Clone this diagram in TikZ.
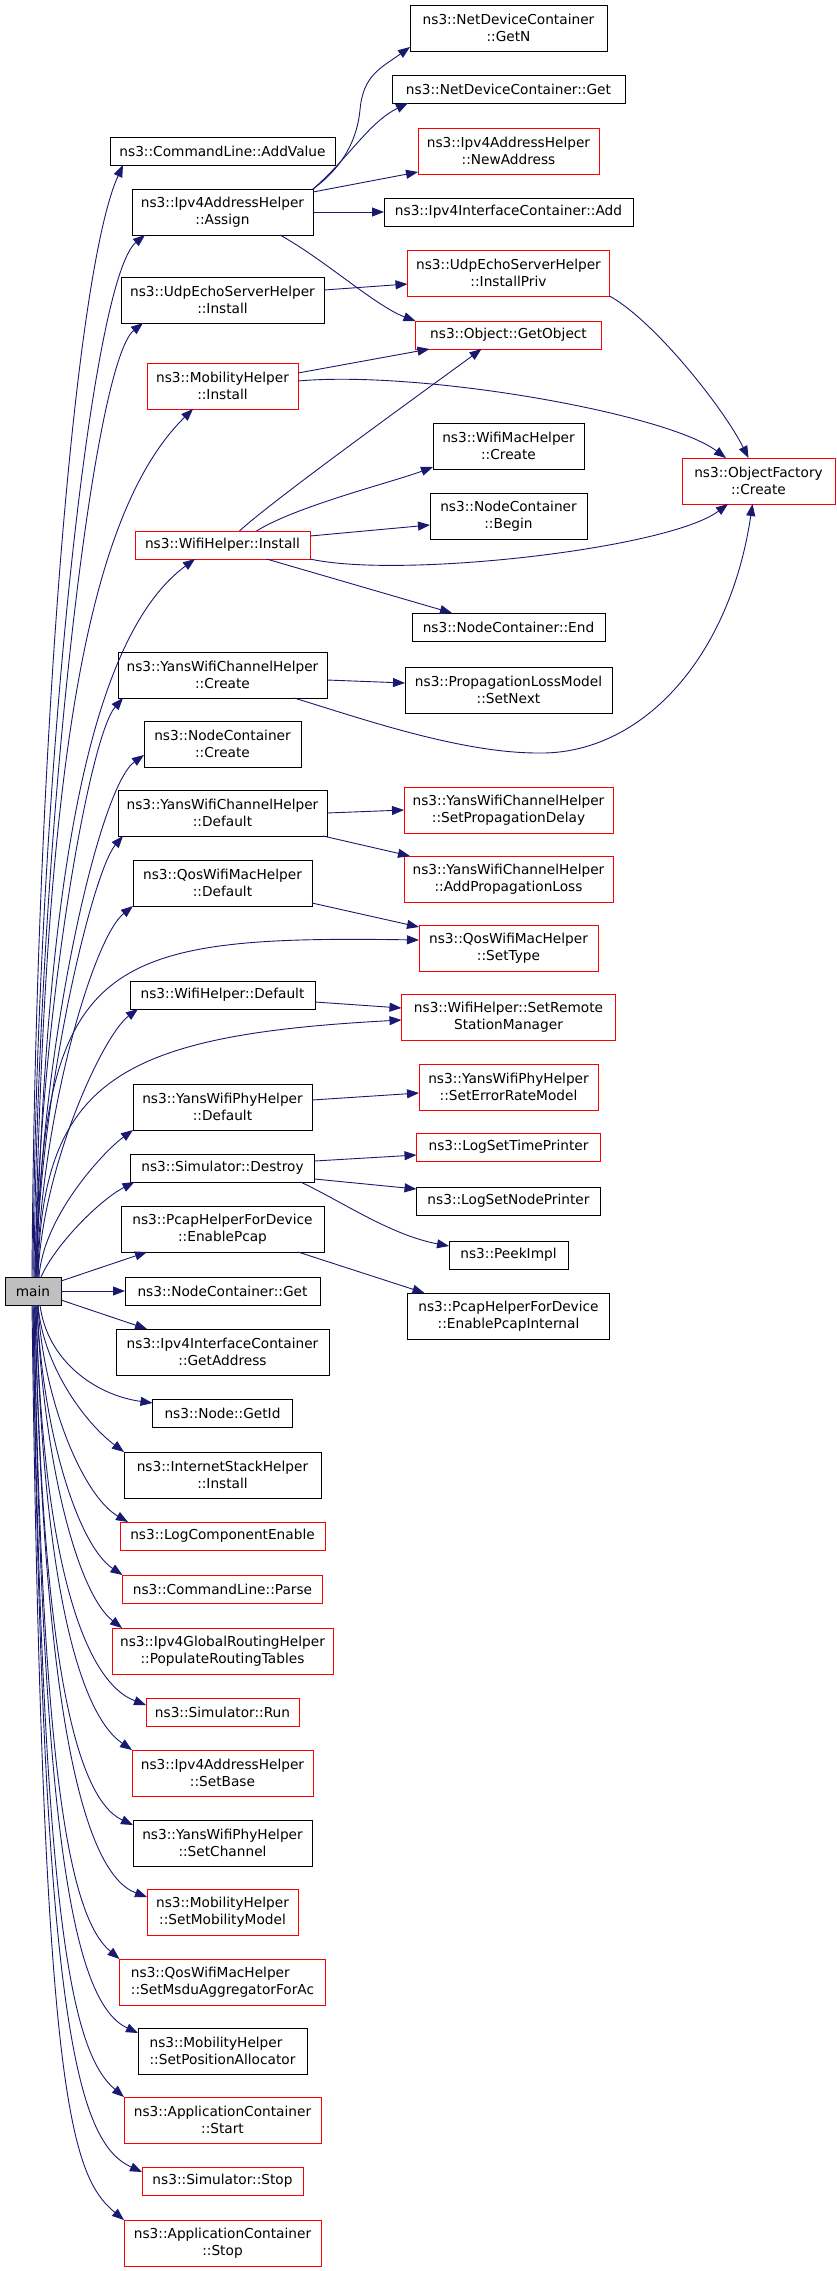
\documentclass[tikz,border=0pt]{standalone}
\usepackage{fontspec}
\setmainfont{DejaVu Sans}
\usepackage{tikz}
\usetikzlibrary{positioning}
\usetikzlibrary{arrows.meta}
\definecolor{edgeblue}{HTML}{191970}
\definecolor{mainfill}{HTML}{BFBFBF}
\newcommand{\fnfont}{\fontsize{13.7pt}{17pt}\selectfont}
\tikzset{%
  callarrow/.style = {-{Triangle[length=12pt,width=9pt]},draw=edgeblue,line width=0.9pt},
  fn/.style = {rectangle,draw,solid,line width=1pt,outer sep=0pt,
        inner xsep=4pt,inner ysep=2pt,minimum width=#1,
        minimum height=28pt,align=center,font=\fnfont},
  rfn/.style = {fn=#1,draw=red},
  twoline/.style = {minimum height=46pt}
}

\begin{document}
\begin{tikzpicture}[x=1pt,y=-1pt]
                \useasboundingbox (0,0) rectangle (837,2271);
                % callees of main
                \node[fn=225pt] (addvalue) at (222.5,151) {ns3::CommandLine::AddValue};
                \node[fn=181pt,twoline] (assign) [below=24pt of addvalue] {ns3::Ipv4AddressHelper\\::Assign};
                \node[fn=203pt,twoline] (uesinstall) [below=42pt of assign] {ns3::UdpEchoServerHelper\\::Install};
                \node[rfn=151pt,twoline] (mhinstall) [below=40pt of uesinstall] {ns3::MobilityHelper\\::Install};
                \node[rfn=175pt] (wifiinstall) [below=122pt of mhinstall] {ns3::WifiHelper::Install};
                \node[fn=209pt,twoline] (ywccreate) [below=93pt of wifiinstall] {ns3::YansWifiChannelHelper\\::Create};
                \node[fn=157pt,twoline] (nccreate) [below=23pt of ywccreate] {ns3::NodeContainer\\::Create};
                \node[fn=209pt,twoline] (ywcdefault) [below=23pt of nccreate] {ns3::YansWifiChannelHelper\\::Default};
                \node[fn=179pt,twoline] (qosdefault) [below=24pt of ywcdefault] {ns3::QosWifiMacHelper\\::Default};
                \node[fn=185pt] (wifidefault) [below=75pt of qosdefault] {ns3::WifiHelper::Default};
                \node[fn=179pt,twoline] (ywpdefault) [below=75pt of wifidefault] {ns3::YansWifiPhyHelper\\::Default};
                \node[fn=184pt] (simdestroy) [below=24pt of ywpdefault] {ns3::Simulator::Destroy};
                \node[fn=203pt,twoline] (enablepcap) [below=24pt of simdestroy] {ns3::PcapHelperForDevice\\::EnablePcap};
                \node[fn=195pt] (ncget) [below=25pt of enablepcap] {ns3::NodeContainer::Get};
                \node[fn=213pt,twoline] (getaddress) [below=24pt of ncget] {ns3::Ipv4InterfaceContainer\\::GetAddress};
                \node[fn=140pt] (getid) [below=24pt of getaddress] {ns3::Node::GetId};
                \node[fn=197pt,twoline] (ishinstall) [below=25pt of getid] {ns3::InternetStackHelper\\::Install};
                \node[rfn=205pt] (logenable) [below=24pt of ishinstall] {ns3::LogComponentEnable};
                \node[rfn=200pt] (clparse) [below=25pt of logenable] {ns3::CommandLine::Parse};
                \node[rfn=221pt,twoline] (routing) [below=25pt of clparse] {ns3::Ipv4GlobalRoutingHelper\\::PopulateRoutingTables};
                \node[rfn=153pt] (simrun) [below=24pt of routing] {ns3::Simulator::Run};
                \node[rfn=181pt,twoline] (setbase) [below=24pt of simrun] {ns3::Ipv4AddressHelper\\::SetBase};
                \node[fn=179pt,twoline] (setchannel) [below=24pt of setbase] {ns3::YansWifiPhyHelper\\::SetChannel};
                \node[rfn=151pt,twoline] (setmobility) [below=23pt of setchannel] {ns3::MobilityHelper\\::SetMobilityModel};
                \node[rfn=206pt,twoline,align=left] (setmsdu) [below=24pt of setmobility] {ns3::QosWifiMacHelper\\::SetMsduAggregatorForAc};
                \node[fn=169pt,twoline,align=left] (setposition) [below=23pt of setmsdu] {ns3::MobilityHelper\\::SetPositionAllocator};
                \node[rfn=197pt,twoline] (appstart) [below=23pt of setposition] {ns3::ApplicationContainer\\::Start};
                \node[rfn=161pt] (simstop) [below=24pt of appstart] {ns3::Simulator::Stop};
                \node[rfn=197pt,twoline] (appstop) [below=25pt of simstop] {ns3::ApplicationContainer\\::Stop};
                \node[fn=56pt,fill=mainfill] (main) [left=64pt of ncget] {main};
                % second level
                \node[fn=197pt,twoline] (getn) at (508.5,28) {ns3::NetDeviceContainer\\::GetN};
                \node[fn=233pt] (ndcget) [below=24pt of getn] {ns3::NetDeviceContainer::Get};
                \node[rfn=181pt,twoline] (newaddress) [below=25pt of ndcget] {ns3::Ipv4AddressHelper\\::NewAddress};
                \node[fn=249pt] (iicadd) [below=24pt of newaddress] {ns3::Ipv4InterfaceContainer::Add};
                \node[rfn=202pt,twoline] (installpriv) [below=24pt of iicadd] {ns3::UdpEchoServerHelper\\::InstallPriv};
                \node[rfn=186pt] (getobject) [below=25pt of installpriv] {ns3::Object::GetObject};
                \node[fn=151pt,twoline] (wmcreate) [below=74pt of getobject] {ns3::WifiMacHelper\\::Create};
                \node[fn=157pt,twoline] (ncbegin) [below=24pt of wmcreate] {ns3::NodeContainer\\::Begin};
                \node[fn=193pt] (ncend) [below=74pt of ncbegin] {ns3::NodeContainer::End};
                \node[fn=207pt,twoline] (setnext) [below=26pt of ncend] {ns3::PropagationLossModel\\::SetNext};
                \node[rfn=209pt,twoline] (setdelay) [below=74pt of setnext] {ns3::YansWifiChannelHelper\\::SetPropagationDelay};
                \node[rfn=209pt,twoline] (addloss) [below=23pt of setdelay] {ns3::YansWifiChannelHelper\\::AddPropagationLoss};
                \node[rfn=179pt,twoline] (settype) [below=23pt of addloss] {ns3::QosWifiMacHelper\\::SetType};
                \node[rfn=214pt,twoline] (setremote) [below=23pt of settype] {ns3::WifiHelper::SetRemote\\StationManager};
                \node[rfn=179pt,twoline] (seterror) [below=24pt of setremote] {ns3::YansWifiPhyHelper\\::SetErrorRateModel};
                \node[rfn=184pt] (timeprinter) [below=23pt of seterror] {ns3::LogSetTimePrinter};
                \node[fn=184pt] (nodeprinter) [below=26pt of timeprinter] {ns3::LogSetNodePrinter};
                \node[fn=119pt] (peekimpl) [below=26pt of nodeprinter] {ns3::PeekImpl};
                \node[fn=202pt,twoline] (pcapinternal) [below=24pt of peekimpl] {ns3::PcapHelperForDevice\\::EnablePcapInternal};
                \node[rfn=153pt,twoline] (ofcreate) at (758.5,481) {ns3::ObjectFactory\\::Create};

                % main, upwards
                \draw[callarrow] ([xshift=-1pt]main.north) .. controls +(3,-500) and +(-50,110) .. ([xshift=13pt]addvalue.south west);
                \draw[callarrow] (main.north) .. controls +(3,-480) and +(-55,45) .. ([xshift=13pt]assign.south west);
                \draw[callarrow] ([xshift=1pt]main.north) .. controls +(4,-440) and +(-50,40) .. ([xshift=22pt]uesinstall.south west);
                \draw[callarrow] ([xshift=2pt]main.north) .. controls +(9,-477) and +(-113,111) .. ([xshift=46pt]mhinstall.south west);
                \draw[callarrow] ([xshift=3pt]main.north) .. controls +(9,-377) and +(-110,81) .. ([xshift=60pt]wifiinstall.south west);
                \draw[callarrow] ([xshift=2pt]main.north) .. controls +(4,-250) and +(-35,40) .. ([xshift=5pt]ywccreate.south west);
                \draw[callarrow] ([xshift=3pt]main.north) .. controls +(4,-230) and +(-45,32) .. ([yshift=-11pt]nccreate.west);
                \draw[callarrow] ([xshift=3pt]main.north) .. controls +(4,-190) and +(-30,35) .. ([xshift=5pt]ywcdefault.south west);
                \draw[callarrow] ([xshift=4pt]main.north) .. controls +(4,-160) and +(-40,32) .. (qosdefault.south west);
                \draw[callarrow] ([xshift=4pt]main.north) .. controls +(4,-317) and +(-319,-5) .. ([yshift=8pt]settype.west);
                \draw[callarrow] ([xshift=5pt]main.north) .. controls +(4,-110) and +(-35,26) .. ([xshift=8pt]wifidefault.south west);
                \draw[callarrow] ([xshift=5pt]main.north) .. controls +(3,-197) and +(-282,15) .. ([yshift=-3pt]setremote.west);
                \draw[callarrow] ([xshift=6pt]main.north) .. controls +(4,-60) and +(-30,22) .. (ywpdefault.south west);
                \draw[callarrow] ([xshift=8pt]main.north) .. controls +(14,-32) and +(-35,18) .. ([xshift=4pt]simdestroy.south west);
                % main, sideways
                \draw[callarrow] ([yshift=10pt]main.east) -- ([xshift=26pt]enablepcap.south west);
                \draw[callarrow] (main.east) -- (ncget.west);
                \draw[callarrow] ([yshift=-9pt]main.east) -- ([xshift=31pt]getaddress.north west);
                % main, downwards
                \draw[callarrow] ([xshift=7pt]main.south) .. controls +(7,55) and +(-58,-8) .. ([yshift=10pt]getid.west);
                \draw[callarrow] ([xshift=5pt]main.south) .. controls +(5,60) and +(-40,-30) .. (ishinstall.north west);
                \draw[callarrow] ([xshift=5pt]main.south) .. controls +(5,95) and +(-45,-26) .. ([xshift=8pt]logenable.north west);
                \draw[callarrow] ([xshift=4pt]main.south) .. controls +(5,125) and +(-45,-30) .. (clparse.north west);
                \draw[callarrow] ([xshift=4pt]main.south) .. controls +(6,155) and +(-45,-35) .. ([xshift=10pt]routing.north west);
                \draw[callarrow] ([xshift=3pt]main.south) .. controls +(6,240) and +(-66,-25) .. ([yshift=7pt]simrun.west);
                \draw[callarrow] ([xshift=3pt]main.south) .. controls +(7,270) and +(-55,-38) .. (setbase.north west);
                \draw[callarrow] ([xshift=2pt]main.south) .. controls +(7,340) and +(-60,-28) .. ([yshift=18pt]setchannel.west);
                \draw[callarrow] ([xshift=2pt]main.south) .. controls +(8,400) and +(-65,-24) .. ([yshift=15pt]setmobility.west);
                \draw[callarrow] ([xshift=1pt]main.south) .. controls +(8,470) and +(-50,-42) .. (setmsdu.north west);
                \draw[callarrow] ([xshift=1pt]main.south) .. controls +(8,550) and +(-62,-29) .. ([yshift=18pt]setposition.west);
                \draw[callarrow] (main.south) .. controls +(9,620) and +(-52,-44) .. (appstart.north west);
                \draw[callarrow] (main.south) .. controls +(9,720) and +(-65,-30) .. ([yshift=9pt]simstop.west);
                \draw[callarrow] ([xshift=-1pt]main.south) .. controls +(10,790) and +(-54,-45) .. (appstop.north west);

                % calls of the callees
                \draw[callarrow] (assign.north east) .. controls +(30,-22) and +(-3,30) .. (360,110) .. controls +(3,-35) and +(-29,21) .. ([yshift=4pt]getn.south west);
                \draw[callarrow] (assign.north east) .. controls +(35,-30) and +(-40,20) .. ([xshift=16pt]ndcget.south west);
                \draw[callarrow] ([yshift=-3pt]assign.north east) -- ([yshift=2pt]newaddress.south west);
                \draw[callarrow] (assign.east) -- (iicadd.west);
                \draw[callarrow] ([xshift=-33pt]assign.south east) .. controls +(45,25) and +(-40,-15) .. (getobject.north west);
                \draw[callarrow] ([yshift=10pt]uesinstall.east) -- ([yshift=-11pt]installpriv.west);
                \draw[callarrow] (installpriv.south east) .. controls +(45,25) and +(-25,-50) .. ([xshift=-10pt]ofcreate.north);
                \draw[callarrow] ([yshift=13pt]mhinstall.east) -- ([xshift=14pt]getobject.south west);
                \draw[callarrow] ([yshift=5pt]mhinstall.east) .. controls +(122,-11) and +(-60,-45) .. ([xshift=44pt]ofcreate.north west);
                \draw[callarrow] ([xshift=17pt]wifiinstall.north) .. controls +(33,-31) and +(-35,26) .. ([xshift=66pt]getobject.south west);
                \draw[callarrow] ([xshift=34pt]wifiinstall.north) .. controls +(40,-25) and +(-40,15) .. ([yshift=2pt]wmcreate.south west);
                \draw[callarrow] ([yshift=9pt]wifiinstall.east) -- ([yshift=-9pt]ncbegin.west);
                \draw[callarrow] (wifiinstall.south east) .. controls +(90,20) and +(-60,45) .. ([xshift=46pt]ofcreate.south west);
                \draw[callarrow] ([xshift=44pt]wifiinstall.south) -- ([xshift=40pt]ncend.north west);
                \draw[callarrow] ([yshift=-5pt]ywccreate.east) -- ([yshift=7pt]setnext.west);
                \draw[callarrow] ([xshift=-33pt]ywccreate.south east) .. controls +(60,18) and +(-80,0) .. (538,753) .. controls +(102,2) and +(-23,156) .. ([xshift=-6pt]ofcreate.south);
                \draw[callarrow] (ywcdefault.east) -- (setdelay.west);
                \draw[callarrow] ([xshift=-4pt]ywcdefault.south east) -- ([xshift=6pt]addloss.north west);
                \draw[callarrow] ([yshift=3pt]qosdefault.south east) -- ([yshift=-2pt]settype.north west);
                \draw[callarrow] ([yshift=-7pt]wifidefault.east) -- ([yshift=9pt]setremote.west);
                \draw[callarrow] ([yshift=7pt]ywpdefault.east) -- ([yshift=-6pt]seterror.west);
                \draw[callarrow] ([yshift=7pt]simdestroy.east) -- ([yshift=-8pt]timeprinter.west);
                \draw[callarrow] ([yshift=-11pt]simdestroy.east) -- ([yshift=12pt]nodeprinter.west);
                \draw[callarrow] ([xshift=-14pt]simdestroy.south east) .. controls +(39,18) and +(-59,-11) .. ([yshift=9pt]peekimpl.west);
                \draw[callarrow] ([xshift=-26pt]enablepcap.south east) -- ([xshift=17pt]pcapinternal.north west);
\end{tikzpicture}
\end{document}
